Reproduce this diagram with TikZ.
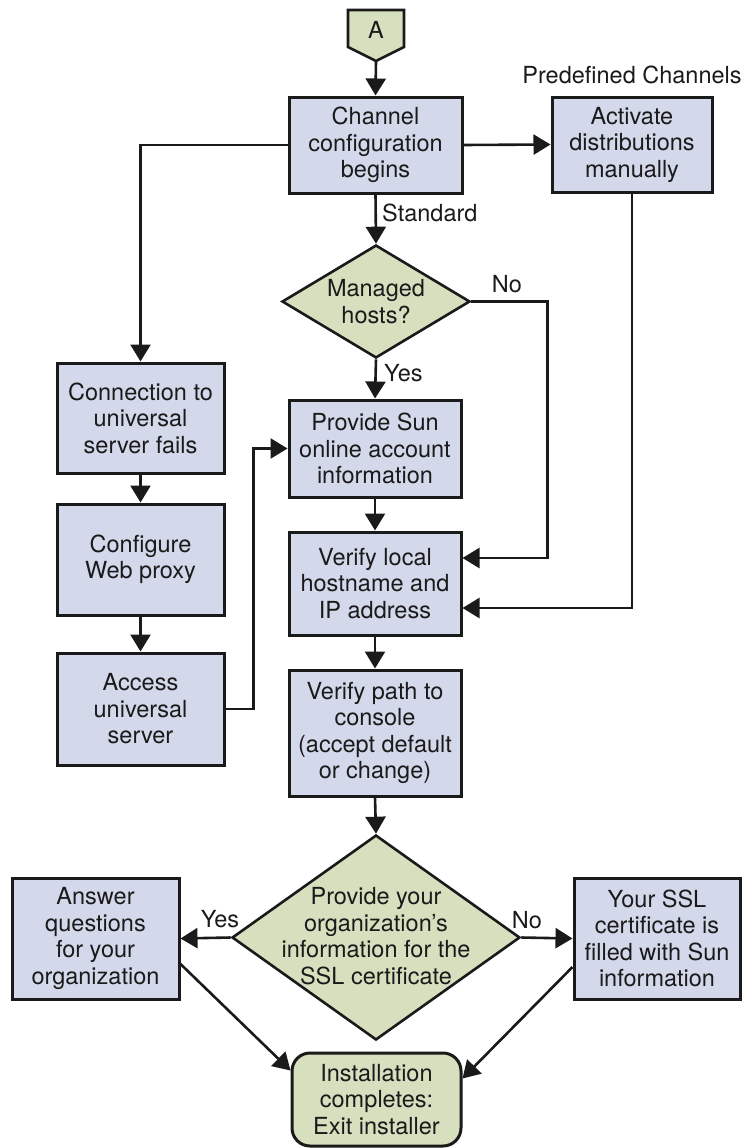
\documentclass[tikz,border=0pt]{standalone}
\usepackage{fontspec}
\setmainfont{TeX Gyre Heros}
\usetikzlibrary{arrows.meta,shapes.geometric,calc}
\definecolor{boxblue}{RGB}{211,216,234}
\definecolor{boxgreen}{RGB}{214,223,190}
\definecolor{ink}{RGB}{26,26,26}
\begin{document}
\begin{tikzpicture}[x=1pt,y=-1pt,
  every node/.style={font=\fontsize{23.5}{26.5}\selectfont, text=ink},
  box/.style={rectangle, draw=ink, line width=3pt, fill=boxblue, inner sep=0pt, align=center},
  dia/.style={diamond, draw=ink, line width=2.6pt, fill=boxgreen, inner sep=0pt},
  term/.style={rectangle, rounded corners=18pt, draw=ink, line width=3pt, fill=boxgreen, inner sep=0pt, align=center},
  txt/.style={align=center, inner sep=0pt},
  lbl/.style={inner sep=0pt},
  arr/.style={draw=ink, line width=2.6pt, -{Triangle[length=17pt,width=20pt]}},
]
\useasboundingbox (0,0) rectangle (748,1148);

% off-page connector A
\draw[draw=ink, line width=2.6pt, fill=boxgreen, line join=miter]
  (348,10) -- (404,10) -- (404,47) -- (376,61) -- (348,47) -- cycle;
\node[lbl] (A) at (376,30) {A};
\coordinate (Ap) at (376,61);

% nodes
\node[box, minimum width=173pt, minimum height=96pt] (chan) at (375.5,145) {Channel\\configuration\\begins};
\node[box, minimum width=160pt, minimum height=95pt] (act) at (632,144.5) {Activate\\distributions\\manually};
\node[lbl] (pred) at (632,75) {Predefined Channels};

\node[dia, minimum width=188pt, minimum height=113pt] (mh) at (376,301.5) {};
\node[txt] (mht) at (376,301.5) {Managed\\hosts?};

\node[box, minimum width=172pt, minimum height=97pt] (sun) at (375,448.5) {Provide Sun\\online account\\information};
\node[box, minimum width=172pt, minimum height=103pt] (vloc) at (375,583.5) {Verify local\\hostname and\\IP address};
\node[box, minimum width=172pt, minimum height=126pt] (vpath) at (375,733) {Verify path to\\console\\(accept default\\or change)};

\node[box, minimum width=167pt, minimum height=110pt] (fail) at (140.5,418) {Connection to\\universal\\server fails};
\node[box, minimum width=167pt, minimum height=111pt] (conf) at (140.5,559.5) {Configure\\Web proxy};
\node[box, minimum width=167pt, minimum height=112pt] (acc) at (140.5,709) {Access\\universal\\server};

\node[dia, minimum width=288pt, minimum height=205pt] (ssl) at (376,937.5) {};
\node[txt] (sslt) at (376,936) {Provide your\\organization’s\\information for the\\SSL certificate};

\node[box, minimum width=167pt, minimum height=121pt] (ans) at (95.5,938.5) {Answer\\questions\\for your\\organization};
\node[box, minimum width=166pt, minimum height=121pt] (sslfill) at (657,938.5) {Your SSL\\certificate is\\filled with Sun\\information};

\node[term, minimum width=169pt, minimum height=93pt] (inst) at (376.5,1099.5) {Installation\\completes:\\Exit installer};

% labels
\node[lbl, anchor=west] (std) at (382,213) {Standard};
\node[lbl, anchor=west] (yes1) at (384,373) {Yes};
\node[lbl] (no1) at (507,284) {No};
\node[lbl] (yes2) at (220,919) {Yes};
\node[lbl] (no2) at (527,920) {No};

% connectors
\draw[arr] (Ap) -- (chan.north);
\draw[arr] (chan.east) -- (act.west);
\draw[arr] (chan.west) -| (fail.north);
\draw[arr] (chan.south) -- (mh.north);
\draw[arr] (mh.south) -- (sun.north);
\draw[arr] (mh.east) -- ++(76,0) |- ($(vloc.east)+(0,-25.5)$);
\draw[arr] (act.south) |- ($(vloc.east)+(0,24.5)$);
\draw[arr] (sun.south) -- (vloc.north);
\draw[arr] (vloc.south) -- (vpath.north);
\draw[arr] (vpath.south) -- (ssl.north);
\draw[arr] (fail.south) -- (conf.north);
\draw[arr] (conf.south) -- (acc.north);
\draw[arr] (acc.east) -- ++(28,0) |- (sun.west);
\draw[arr] (ssl.west) -- (ans.east);
\draw[arr] (ssl.east) -- (sslfill.west);
\draw[arr] ($(ans.east)+(0,25.5)$) -- ($(inst.north west)+(0,19)$);
\draw[arr] ($(sslfill.west)+(0,28.5)$) -- ($(inst.north east)+(0,27)$);
\end{tikzpicture}
\end{document}
